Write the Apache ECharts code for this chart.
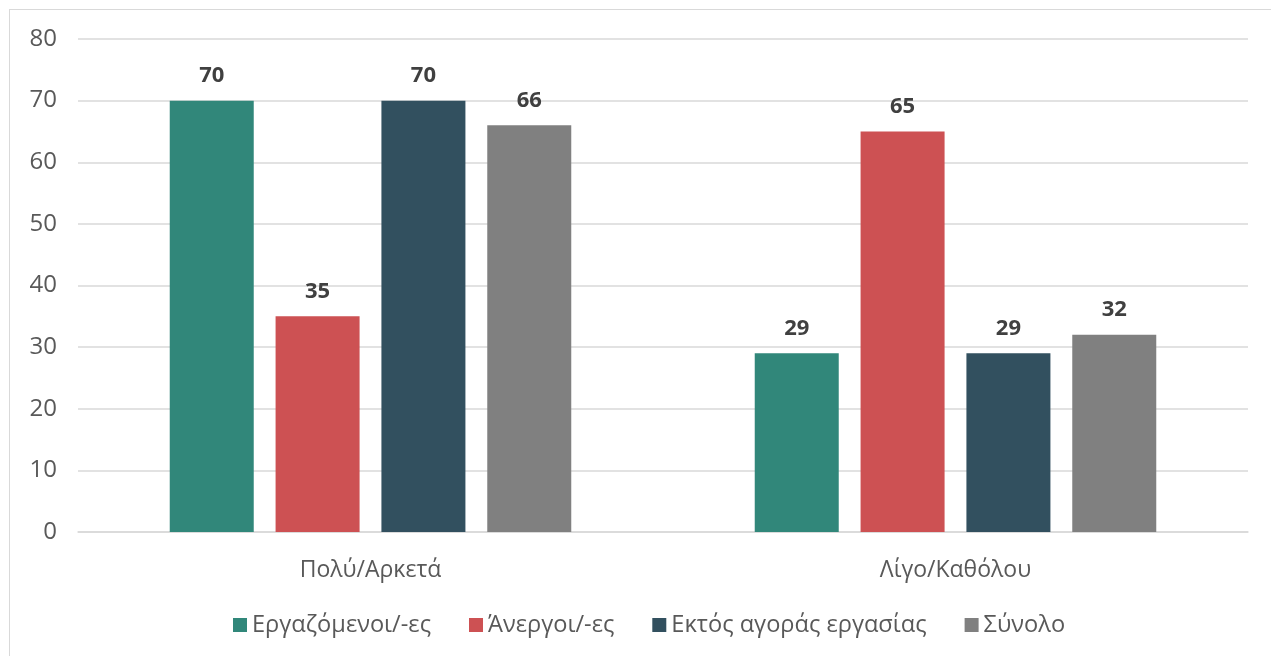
<!DOCTYPE html>
<html>
<head>
<meta charset="utf-8">
<script src="https://cdn.jsdelivr.net/npm/echarts@6/dist/echarts.min.js"></script>
<style>
html,body{margin:0;padding:0;background:#fff;overflow:hidden;}
#frame{position:absolute;left:9px;top:9px;width:1280px;height:660px;border-left:1px solid #d9d9d9;border-top:1px solid #d9d9d9;}
#chart{position:absolute;left:0;top:0;width:1271px;height:656px;}
</style>
</head>
<body>
<div id="frame"></div>
<div id="chart"></div>
<script>
const categories = ['Πολύ/Αρκετά', 'Λίγο/Καθόλου'];
const seriesNames = ['Εργαζόμενοι/-ες', 'Άνεργοι/-ες', 'Εκτός αγοράς εργασίας', 'Σύνολο'];
const employed = [70, 29];
const unemployed = [35, 65];
const outOfLabour = [70, 29];
const total = [66, 32];
const yTicks = [0, 10, 20, 30, 40, 50, 60, 70, 80];

const colors = ['#31877a', '#cd5153', '#32505f', '#808080'];
const dataSets = [employed, unemployed, outOfLabour, total];
const font = '"Open Sans", "Noto Sans", sans-serif';

const chart = echarts.init(document.getElementById('chart'), null, {renderer: 'canvas'});
chart.setOption({
  animation: false,
  textStyle: {fontFamily: font},
  grid: {left: 78, right: 23, top: 39, bottom: 124},
  legend: {
    bottom: 14,
    left: 228,
    itemWidth: 14,
    itemHeight: 14,
    itemGap: 38,
    icon: 'rect',
    textStyle: {fontSize: 23.6, color: '#595959', fontFamily: font},
    data: seriesNames
  },
  xAxis: {
    type: 'category',
    data: categories,
    axisTick: {show: false},
    axisLine: {lineStyle: {color: '#d9d9d9', width: 1.5}},
    axisLabel: {fontSize: 23, color: '#595959', margin: 27, fontFamily: font}
  },
  yAxis: {
    type: 'value',
    min: yTicks[0],
    max: yTicks[yTicks.length - 1],
    interval: 10,
    axisLine: {show: false},
    axisTick: {show: false},
    splitLine: {lineStyle: {color: '#d9d9d9', width: 1.5}},
    axisLabel: {fontSize: 24, color: '#595959', margin: 21, fontFamily: font}
  },
  series: seriesNames.map((n, i) => ({
    name: n,
    type: 'bar',
    data: dataSets[i],
    barWidth: 84,
    barGap: '26%',
    itemStyle: {color: colors[i]},
    label: {
      show: true,
      position: 'top',
      distance: 14,
      fontSize: 22,
      fontWeight: 'bold',
      color: '#404040',
      fontFamily: font
    }
  }))
});
</script>
</body>
</html>
